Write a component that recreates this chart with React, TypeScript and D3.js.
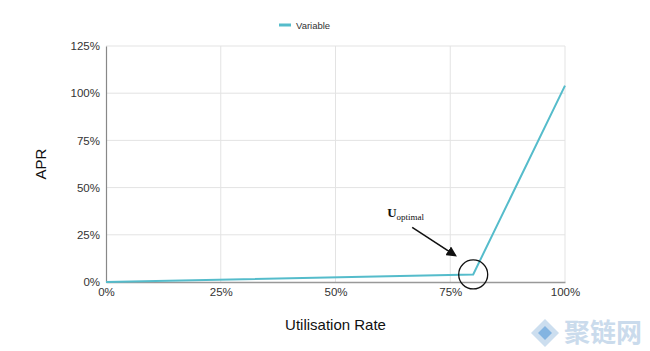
import React, { useRef, useEffect } from "react";
import * as d3 from "d3";

const utilisation = [0, 0.8, 1.0];
const apr = [0, 0.04, 1.04];
const xTicks = [0, 0.25, 0.5, 0.75, 1.0];
const yTicks = [0, 0.25, 0.5, 0.75, 1.0, 1.25];
const seriesName = "Variable";
const kink = { x: 0.8, y: 0.04 };

const App = () => {
  const svgRef = useRef<SVGSVGElement>(null);

  useEffect(() => {
    document.body.style.margin = "0";
    const width = 650;
    const height = 351;
    const margin = { top: 46, right: 85, bottom: 69, left: 106 };
    const innerW = width - margin.left - margin.right;
    const innerH = height - margin.top - margin.bottom;
    const teal = "#55bccb";
    const font = "'Liberation Sans', Arial, sans-serif";

    const root = d3.select(svgRef.current);
    root.selectAll("*").remove();
    root.append("rect").attr("width", width).attr("height", height).attr("fill", "#fff");

    const svg = root.append("g").attr("transform", `translate(${margin.left},${margin.top})`);

    const x = d3.scaleLinear().domain([0, 1]).range([0, innerW]);
    const y = d3.scaleLinear().domain([0, 1.25]).range([innerH, 0]);

    // grid
    svg.append("g")
      .selectAll("line")
      .data(yTicks.slice(1))
      .enter()
      .append("line")
      .attr("x1", 0)
      .attr("x2", innerW)
      .attr("y1", (d) => y(d))
      .attr("y2", (d) => y(d))
      .attr("stroke", "#e3e3e3")
      .attr("stroke-width", 1);
    svg.append("g")
      .selectAll("line")
      .data(xTicks.slice(1))
      .enter()
      .append("line")
      .attr("x1", (d) => x(d))
      .attr("x2", (d) => x(d))
      .attr("y1", 0)
      .attr("y2", innerH)
      .attr("stroke", "#e3e3e3")
      .attr("stroke-width", 1);

    // axes
    const xAxis = d3.axisBottom(x).tickValues(xTicks).tickFormat(d3.format(".0%")).tickSize(0).tickPadding(6);
    const gx = svg.append("g").attr("transform", `translate(0,${innerH})`).call(xAxis);
    gx.select(".domain").attr("stroke", "#999").attr("stroke-width", 1.5);
    gx.selectAll("text").attr("font-family", font).attr("font-size", 11.5).attr("fill", "#333");

    const yAxis = d3.axisLeft(y).tickValues(yTicks).tickFormat(d3.format(".0%")).tickSize(0).tickPadding(6);
    const gy = svg.append("g").call(yAxis);
    gy.select(".domain").attr("stroke", "#888").attr("stroke-width", 1.2);
    gy.selectAll("text").attr("font-family", font).attr("font-size", 11.5).attr("fill", "#333");

    // line
    const pts = utilisation.map((u, i) => [u, apr[i]] as [number, number]);
    const line = d3.line<[number, number]>().x((d) => x(d[0])).y((d) => y(d[1]));
    svg.append("path").datum(pts).attr("d", line).attr("fill", "none").attr("stroke", teal).attr("stroke-width", 2);

    // annotation
    const cx = x(kink.x);
    const cy = y(kink.y);
    svg.append("circle").attr("cx", cx).attr("cy", cy).attr("r", 14.5).attr("fill", "none").attr("stroke", "#111").attr("stroke-width", 1.3);

    const defs = root.append("defs");
    defs.append("marker")
      .attr("id", "arrow")
      .attr("viewBox", "0 0 10 10")
      .attr("refX", 8)
      .attr("refY", 5)
      .attr("markerWidth", 7)
      .attr("markerHeight", 7)
      .attr("orient", "auto")
      .append("path")
      .attr("d", "M0,0 L10,5 L0,10 z")
      .attr("fill", "#111");
    svg.append("line")
      .attr("x1", cx - 61)
      .attr("y1", cy - 47)
      .attr("x2", cx - 18)
      .attr("y2", cy - 19)
      .attr("stroke", "#111")
      .attr("stroke-width", 1.5)
      .attr("marker-end", "url(#arrow)");

    const label = svg.append("text")
      .attr("x", cx - 86)
      .attr("y", cy - 57)
      .attr("font-family", "'Liberation Serif', 'DejaVu Serif', serif")
      .attr("fill", "#111");
    label.append("tspan").attr("font-weight", "bold").attr("font-size", 13).text("U");
    label.append("tspan").attr("font-size", 9).attr("dy", 3).text("optimal");

    // axis titles
    root.append("text")
      .attr("transform", `translate(46,${margin.top + innerH / 2}) rotate(-90)`)
      .attr("text-anchor", "middle")
      .attr("font-family", font)
      .attr("font-size", 15)
      .attr("fill", "#111")
      .text("APR");
    root.append("text")
      .attr("x", margin.left + innerW / 2)
      .attr("y", 330)
      .attr("text-anchor", "middle")
      .attr("font-family", font)
      .attr("font-size", 15)
      .attr("fill", "#111")
      .text("Utilisation Rate");

    // legend
    const lg = root.append("g").attr("transform", "translate(279,25)");
    lg.append("line").attr("x1", 0).attr("x2", 12).attr("y1", 0).attr("y2", 0).attr("stroke", teal).attr("stroke-width", 3);
    lg.append("text").attr("x", 17).attr("y", 3.5).attr("font-family", font).attr("font-size", 9.5).attr("fill", "#333").text(seriesName);

    // watermark
    const wm = root.append("g").attr("transform", "translate(531,333)").attr("opacity", 0.75);
    wm.append("path").attr("d", "M0,0 L14,-14 L28,0 L14,14 Z").attr("fill", "#bcd3ea");
    wm.append("path").attr("d", "M7,0 L14,-7 L21,0 L14,7 Z").attr("fill", "#5a9bd8");
    wm.append("text")
      .attr("x", 33)
      .attr("y", 9)
      .attr("font-family", "'Noto Sans CJK SC', sans-serif")
      .attr("font-size", 26)
      .attr("font-weight", "bold")
      .attr("fill", "#b9cfe6")
      .text("聚链网");
  }, []);

  return <svg ref={svgRef} width={650} height={351} style={{ display: "block" }}></svg>;
};

export default App;
